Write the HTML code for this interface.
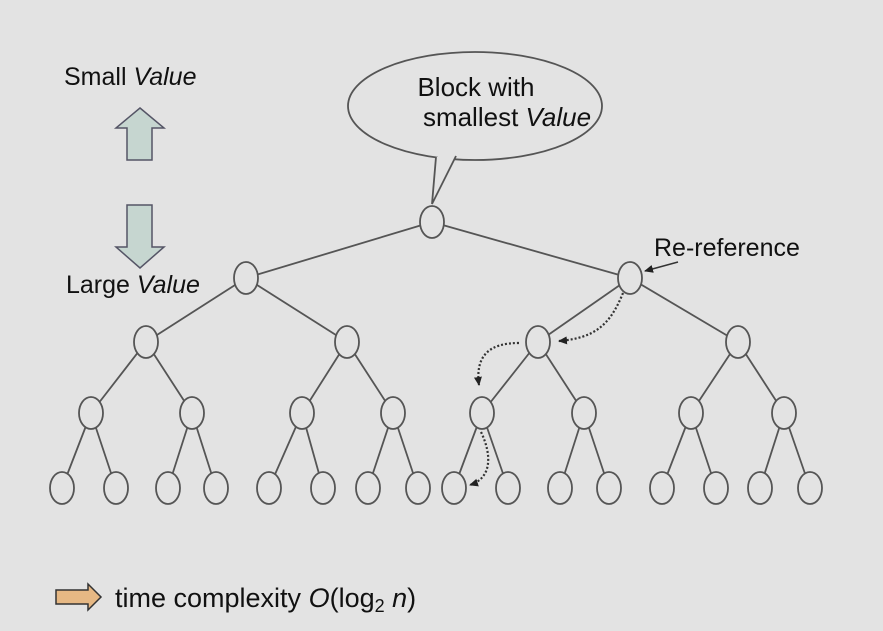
<!DOCTYPE html>
<html><head><meta charset="utf-8"><style>
html,body{margin:0;padding:0;background:#e3e3e3;}
svg{display:block;font-family:"Liberation Sans",sans-serif;}
</style></head><body>
<svg width="883" height="631" viewBox="0 0 883 631" xmlns="http://www.w3.org/2000/svg">
<rect width="883" height="631" fill="#e3e3e3"/>
<defs><marker id="ah" markerUnits="userSpaceOnUse" markerWidth="10" markerHeight="10" refX="8" refY="5" orient="auto"><path d="M0,1 L9,5 L0,9 z" fill="#222"/></marker></defs>
<g stroke="#555" stroke-width="1.8" fill="none">
<path d="M432,222 L246,278 M432,222 L630,278
M246,278 L146,342 M246,278 L347,342 M630,278 L538,342 M630,278 L738,342
M146,342 L91,413 M146,342 L192,413 M347,342 L302,413 M347,342 L393,413
M538,342 L482,413 M538,342 L584,413 M738,342 L691,413 M738,342 L784,413
M91,413 L62,488 M91,413 L116,488 M192,413 L168,488 M192,413 L216,488
M302,413 L269,488 M302,413 L323,488 M393,413 L368,488 M393,413 L418,488
M482,413 L454,488 M482,413 L508,488 M584,413 L560,488 M584,413 L609,488
M691,413 L662,488 M691,413 L716,488 M784,413 L760,488 M784,413 L810,488"/>
</g>
<g stroke="#555" stroke-width="1.8" fill="#e3e3e3">
<ellipse cx="432" cy="222" rx="12" ry="16"/>
<ellipse cx="246" cy="278" rx="12" ry="16"/><ellipse cx="630" cy="278" rx="12" ry="16"/>
<ellipse cx="146" cy="342" rx="12" ry="16"/><ellipse cx="347" cy="342" rx="12" ry="16"/><ellipse cx="538" cy="342" rx="12" ry="16"/><ellipse cx="738" cy="342" rx="12" ry="16"/>
<ellipse cx="91" cy="413" rx="12" ry="16"/><ellipse cx="192" cy="413" rx="12" ry="16"/><ellipse cx="302" cy="413" rx="12" ry="16"/><ellipse cx="393" cy="413" rx="12" ry="16"/><ellipse cx="482" cy="413" rx="12" ry="16"/><ellipse cx="584" cy="413" rx="12" ry="16"/><ellipse cx="691" cy="413" rx="12" ry="16"/><ellipse cx="784" cy="413" rx="12" ry="16"/>
<ellipse cx="62" cy="488" rx="12" ry="16"/><ellipse cx="116" cy="488" rx="12" ry="16"/><ellipse cx="168" cy="488" rx="12" ry="16"/><ellipse cx="216" cy="488" rx="12" ry="16"/><ellipse cx="269" cy="488" rx="12" ry="16"/><ellipse cx="323" cy="488" rx="12" ry="16"/><ellipse cx="368" cy="488" rx="12" ry="16"/><ellipse cx="418" cy="488" rx="12" ry="16"/><ellipse cx="454" cy="488" rx="12" ry="16"/><ellipse cx="508" cy="488" rx="12" ry="16"/><ellipse cx="560" cy="488" rx="12" ry="16"/><ellipse cx="609" cy="488" rx="12" ry="16"/><ellipse cx="662" cy="488" rx="12" ry="16"/><ellipse cx="716" cy="488" rx="12" ry="16"/><ellipse cx="760" cy="488" rx="12" ry="16"/><ellipse cx="810" cy="488" rx="12" ry="16"/>
</g>
<!-- callout -->
<ellipse cx="475" cy="106" rx="127" ry="54" fill="#e3e3e3" stroke="#555" stroke-width="1.8"/>
<path d="M436,157 L432,204 L456,156" fill="#e3e3e3" stroke="#555" stroke-width="1.8"/>
<rect x="438" y="150" width="16" height="8" fill="#e3e3e3"/>
<text x="476" y="96" font-size="26" text-anchor="middle" fill="#111">Block with</text>
<text x="507" y="126" font-size="26" text-anchor="middle" fill="#111">smallest <tspan font-style="italic">Value</tspan></text>
<!-- left labels -->
<text x="64" y="85" font-size="25" fill="#111">Small <tspan font-style="italic">Value</tspan></text>
<text x="66" y="293" font-size="25" fill="#111">Large <tspan font-style="italic">Value</tspan></text>
<path d="M140,108 L164,128 L152,128 L152,160 L127,160 L127,128 L116,128 Z" fill="#c6d6d0" stroke="#556" stroke-width="1.5"/>
<path d="M127,205 L152,205 L152,247 L164,247 L140,268 L116,247 L127,247 Z" fill="#c6d6d0" stroke="#556" stroke-width="1.5"/>
<!-- re-reference -->
<text x="654" y="256" font-size="25" fill="#111">Re-reference</text>
<line x1="678" y1="262" x2="645" y2="271" stroke="#333" stroke-width="1.5" marker-end="url(#ah)"/>
<g stroke="#333" stroke-width="2.2" stroke-dasharray="2,2" fill="none" marker-end="url(#ah)">
<path d="M623,293 C610,325 595,338 559,341"/>
<path d="M519,343 C490,343 475,355 479,385"/>
<path d="M481,432 C492,455 492,478 470,485"/>
</g>
<!-- bottom -->
<path d="M56,590 L88,590 L88,584 L101,597 L88,610 L88,604 L56,604 Z" fill="#e6b884" stroke="#333" stroke-width="1.5"/>
<text x="115" y="607" font-size="27" fill="#111">time complexity <tspan font-style="italic">O</tspan>(log<tspan font-size="18" dy="5">2</tspan><tspan dy="-5" font-style="italic"> n</tspan>)</text>
</svg>
</body></html>
